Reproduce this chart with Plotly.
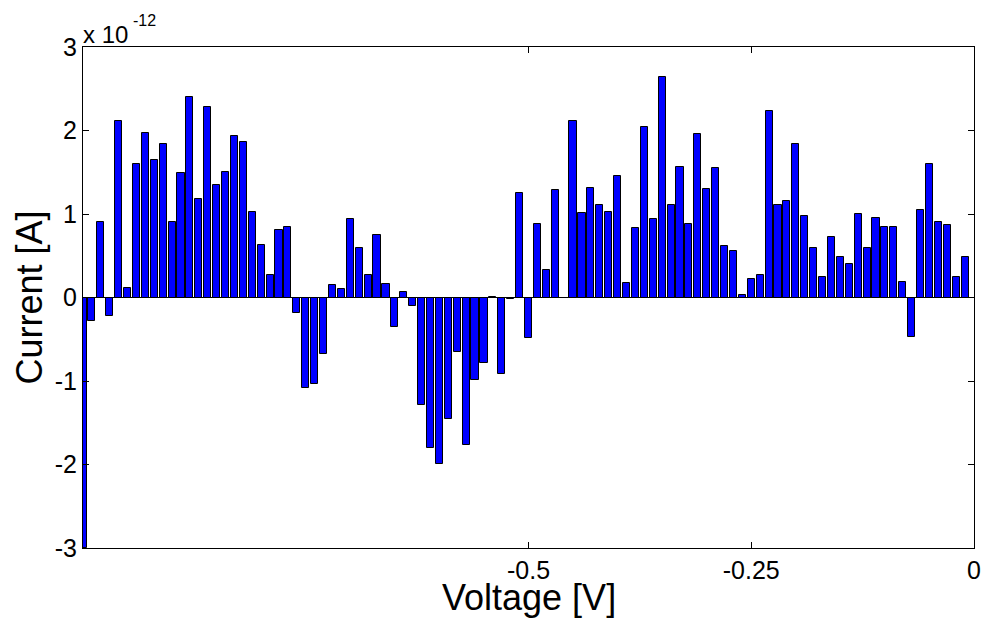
import plotly.graph_objects as go

# Voltage sweep (V), one bar per step
voltage = [
    -1.00, -0.99, -0.98, -0.97, -0.96, -0.95, -0.94, -0.93, -0.92, -0.91,
    -0.90, -0.89, -0.88, -0.87, -0.86, -0.85, -0.84, -0.83, -0.82, -0.81,
    -0.80, -0.79, -0.78, -0.77, -0.76, -0.75, -0.74, -0.73, -0.72, -0.71,
    -0.70, -0.69, -0.68, -0.67, -0.66, -0.65, -0.64, -0.63, -0.62, -0.61,
    -0.60, -0.59, -0.58, -0.57, -0.56, -0.55, -0.54, -0.53, -0.52, -0.51,
    -0.50, -0.49, -0.48, -0.47, -0.46, -0.45, -0.44, -0.43, -0.42, -0.41,
    -0.40, -0.39, -0.38, -0.37, -0.36, -0.35, -0.34, -0.33, -0.32, -0.31,
    -0.30, -0.29, -0.28, -0.27, -0.26, -0.25, -0.24, -0.23, -0.22, -0.21,
    -0.20, -0.19, -0.18, -0.17, -0.16, -0.15, -0.14, -0.13, -0.12, -0.11,
    -0.10, -0.09, -0.08, -0.07, -0.06, -0.05, -0.04, -0.03, -0.02, -0.01,
]

# Current in units of 1e-12 A
current_pA = [
    -3.00, -0.28, 0.91, -0.22, 2.11, 0.11, 1.60, 1.97, 1.65, 1.84,
    0.91, 1.49, 2.40, 1.18, 2.28, 1.35, 1.50, 1.94, 1.86, 1.02,
    0.63, 0.27, 0.81, 0.84, -0.18, -1.08, -1.03, -0.68, 0.15, 0.10,
    0.94, 0.59, 0.27, 0.75, 0.16, -0.35, 0.06, -0.10, -1.29, -1.80,
    -1.99, -1.45, -0.65, -1.77, -0.99, -0.79, 0.01, -0.92, -0.02, 1.25,
    -0.49, 0.88, 0.33, 1.29, -0.01, 2.11, 1.01, 1.31, 1.11, 1.02,
    1.45, 0.17, 0.83, 2.04, 0.94, 2.64, 1.11, 1.56, 0.88, 1.96,
    1.30, 1.55, 0.62, 0.56, 0.03, 0.22, 0.27, 2.23, 1.11, 1.15,
    1.84, 0.98, 0.59, 0.24, 0.73, 0.49, 0.40, 1.00, 0.59, 0.95,
    0.84, 0.85, 0.18, -0.47, 1.05, 1.60, 0.90, 0.87, 0.24, 0.49,
]

x_tickvals = [-0.5, -0.25, 0]
x_ticktext = ["-0.5", "-0.25", "0"]
y_tickvals = [-3, -2, -1, 0, 1, 2, 3]
y_ticktext = ["-3", "-2", "-1", "0", "1", "2", "3"]

FONT = "Liberation Sans, Arial, sans-serif"

fig = go.Figure()
fig.add_trace(go.Bar(
    x=voltage,
    y=current_pA,
    width=0.008,
    marker=dict(color="#0000FF", line=dict(color="black", width=1)),
    showlegend=False,
))

axis_common = dict(
    showline=True, linecolor="black", linewidth=1, mirror="ticks",
    ticks="inside", ticklen=6, tickcolor="black", tickwidth=1,
    showgrid=False,
    tickfont=dict(family=FONT, size=25, color="black"),
)

fig.update_layout(
    width=985, height=622,
    margin=dict(l=83, r=11, t=47, b=74, autoexpand=False),
    paper_bgcolor="white", plot_bgcolor="white",
    bargap=0,
    xaxis=dict(range=[-1.0, 0.0], tickmode="array", tickvals=x_tickvals,
               ticktext=x_ticktext, zeroline=False, automargin=False,
               **axis_common),
    yaxis=dict(range=[-3, 3], tickmode="array", tickvals=y_tickvals,
               ticktext=y_ticktext, zeroline=True, zerolinecolor="black",
               zerolinewidth=1, automargin=False, **axis_common),
    annotations=[
        dict(text="Voltage [V]", xref="paper", yref="paper", x=0.5, y=0,
             xanchor="center", yanchor="middle", yshift=-49, showarrow=False,
             font=dict(family=FONT, size=36, color="black")),
        dict(text="Current [A]", xref="paper", yref="paper", x=0, y=0.5,
             xanchor="center", yanchor="middle", xshift=-54, textangle=-90,
             showarrow=False, font=dict(family=FONT, size=36, color="black")),
        dict(text="x 10", xref="paper", yref="paper", x=0, y=1,
             xanchor="left", yanchor="middle", xshift=-2, yshift=13,
             showarrow=False, font=dict(family=FONT, size=24, color="black")),
        dict(text="-12", xref="paper", yref="paper", x=0, y=1,
             xanchor="left", yanchor="middle", xshift=48, yshift=27,
             showarrow=False, font=dict(family=FONT, size=16, color="black")),
    ],
)

# remove the default page margin so the figure sits at the window's corner
fig.write_html(
    "out.html",
    config={"displayModeBar": False},
    post_script="document.body.style.margin='0';document.body.style.overflow='hidden';",
)
